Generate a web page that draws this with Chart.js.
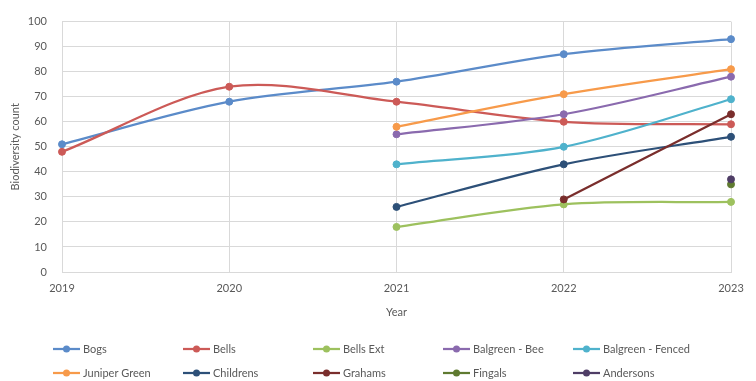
<!DOCTYPE html>
<html>
<head>
<meta charset="utf-8">
<script src="https://cdn.jsdelivr.net/npm/chart.js@4"></script>
<style>
  html, body { margin: 0; padding: 0; background: #fff; }
</style>
</head>
<body>
<canvas id="chart" width="756" height="381"></canvas>
<script>
const years = ["2019", "2020", "2021", "2022", "2023"];
const seriesNames = ["Bogs", "Bells", "Bells Ext", "Balgreen - Bee", "Balgreen - Fenced",
  "Juniper Green", "Childrens", "Grahams", "Fingals", "Andersons"];

const bogs = [51, 68, 76, 87, 93];
const bells = [48, 74, 68, 60, 59];
const bellsExt = [null, null, 18, 27, 28];
const balgreenBee = [null, null, 55, 63, 78];
const balgreenFenced = [null, null, 43, 50, 69];
const juniperGreen = [null, null, 58, 71, 81];
const childrens = [null, null, 26, 43, 54];
const grahams = [null, null, null, 29, 63];
const fingals = [null, null, null, null, 35];
const andersons = [null, null, null, null, 37];

const seriesValues = [bogs, bells, bellsExt, balgreenBee, balgreenFenced,
  juniperGreen, childrens, grahams, fingals, andersons];

const COLORS = ["#5b8bc9", "#cc5a57", "#9dc15e", "#8a6aae", "#4fb2cc",
  "#f79a4a", "#2d5078", "#7a2e2c", "#5f7a30", "#4f3d66"];

const TEXT = "#595959";
const GRID = "#d9d9d9";
const FONT = "Lato, 'Open Sans', sans-serif";

// legend laid out in a fixed grid, like the spreadsheet one
const gridLegend = {
  id: "gridLegend",
  afterDraw(chart) {
    const ctx = chart.ctx;
    const cols = 5, colW = 130, x0 = 53, rows = [349, 373];
    ctx.save();
    ctx.font = "11px " + FONT;
    ctx.textBaseline = "middle";
    ctx.textAlign = "left";
    chart.data.datasets.forEach((ds, i) => {
      const x = x0 + (i % cols) * colW;
      const y = rows[Math.floor(i / cols)];
      ctx.strokeStyle = ds.borderColor;
      ctx.lineWidth = 2.25;
      ctx.beginPath();
      ctx.moveTo(x, y);
      ctx.lineTo(x + 27, y);
      ctx.stroke();
      ctx.fillStyle = ds.borderColor;
      ctx.beginPath();
      ctx.arc(x + 13.5, y, 3.5, 0, Math.PI * 2);
      ctx.fill();
      ctx.fillStyle = TEXT;
      ctx.fillText(ds.label, x + 30, y);
    });
    ctx.restore();
  },
};

new Chart(document.getElementById("chart"), {
  type: "line",
  data: {
    labels: years,
    datasets: seriesNames.map((name, i) => ({
      label: name,
      data: seriesValues[i],
      borderColor: COLORS[i],
      backgroundColor: COLORS[i],
      borderWidth: 2.25,
      pointRadius: 3.5,
      pointBorderWidth: 1,
      tension: 0.32,
      spanGaps: false,
      order: -i,
    })),
  },
  options: {
    responsive: false,
    animation: false,
    devicePixelRatio: 1,
    layout: { padding: { top: 17, right: 25, bottom: 59, left: 0 } },
    plugins: {
      legend: { display: false },
      tooltip: { enabled: false },
    },
    scales: {
      x: {
        offset: false,
        afterFit: (s) => { s.height = 50; },
        grid: { color: GRID, drawTicks: false },
        border: { color: GRID },
        ticks: { color: TEXT, font: { family: FONT, size: 11 }, padding: 10, maxRotation: 0 },
        title: {
          display: true, text: "Year", color: TEXT,
          font: { family: FONT, size: 11 }, padding: { top: 0, bottom: 3 },
        },
      },
      y: {
        min: 0,
        max: 100,
        afterFit: (s) => { s.width = 62; },
        grid: { color: GRID, drawTicks: false },
        border: { display: false },
        ticks: { stepSize: 10, color: TEXT, font: { family: FONT, size: 11 }, padding: 15 },
        title: {
          display: true, text: "Biodiversity count", color: TEXT,
          font: { family: FONT, size: 11 }, padding: { top: 9, bottom: 0 },
        },
      },
    },
  },
  plugins: [gridLegend],
});
</script>
</body>
</html>
